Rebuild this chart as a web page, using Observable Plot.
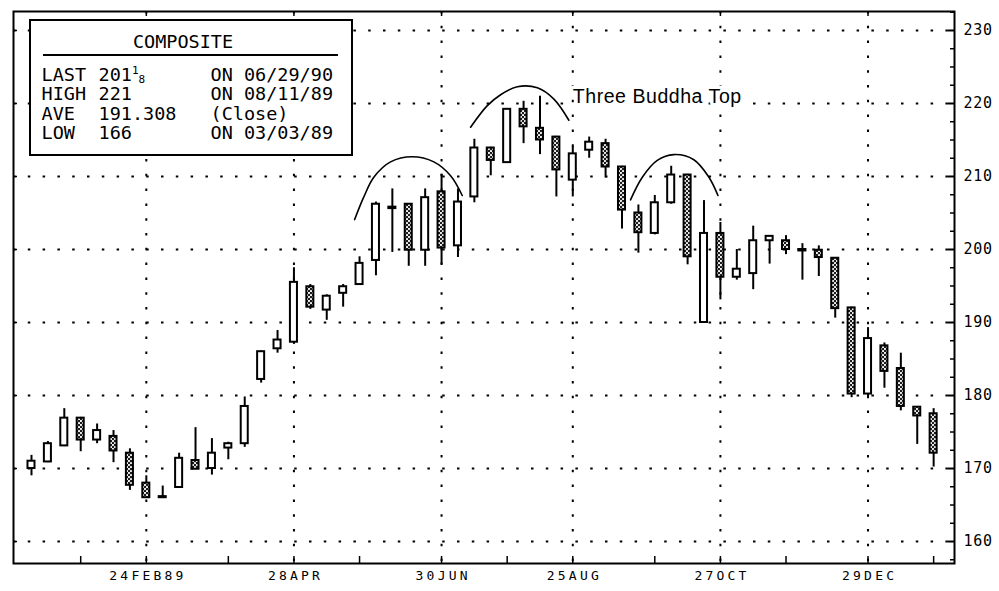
<!DOCTYPE html>
<html><head><meta charset="utf-8">
<script src="https://cdn.jsdelivr.net/npm/d3@7"></script>
<script src="https://cdn.jsdelivr.net/npm/@observablehq/plot@0.6"></script>
<style>
html,body{margin:0;padding:0;background:#fff;}
#wrap{position:relative;width:999px;height:591px;overflow:hidden;}
.box{position:absolute;left:29px;top:19px;width:324px;height:137px;border:2px solid #000;background:#fff;box-sizing:border-box;}
.t{position:absolute;font-family:"DejaVu Sans Mono",monospace;font-size:18.5px;line-height:18.5px;color:#000;white-space:pre;}
.sub{font-size:11px;position:relative;}
.hr{position:absolute;left:43px;top:54px;width:295px;height:2px;background:#000;}
</style></head><body><div id="wrap"></div>
<script>
// ---- data (weekly candles) ----
const dates = ["1989-01-06","1989-01-13","1989-01-20","1989-01-27","1989-02-03","1989-02-10","1989-02-17","1989-02-24",
"1989-03-03","1989-03-10","1989-03-17","1989-03-24","1989-03-31","1989-04-07","1989-04-14","1989-04-21","1989-04-28",
"1989-05-05","1989-05-12","1989-05-19","1989-05-26","1989-06-02","1989-06-09","1989-06-16","1989-06-23","1989-06-30",
"1989-07-07","1989-07-14","1989-07-21","1989-07-28","1989-08-04","1989-08-11","1989-08-18","1989-08-25",
"1989-09-01","1989-09-08","1989-09-15","1989-09-22","1989-09-29","1989-10-06","1989-10-13","1989-10-20","1989-10-27",
"1989-11-03","1989-11-10","1989-11-17","1989-11-24","1989-12-01","1989-12-08","1989-12-15","1989-12-22","1989-12-29",
"1990-01-05","1990-01-12","1990-01-19","1990-01-26"];
const open  = [170.0,170.9,173.1,176.9,173.9,174.4,172.1,168.0,166.15,167.4,171.1,170.0,172.8,173.4,
182.2,186.4,187.3,194.9,191.7,194.0,195.2,198.5,205.8,206.2,199.9,207.9,200.5,207.2,213.9,211.9,219.2,216.6,215.4,209.5,
213.6,214.5,211.3,205.0,202.2,206.4,210.2,190.0,202.2,196.2,196.7,201.2,201.2,200.0,199.9,198.8,192.0,180.2,186.8,183.7,178.4,177.5];
const high  = [171.8,173.7,178.2,177.0,176.1,175.2,172.7,169.0,167.6,172.1,175.6,174.1,173.6,179.8,
186.1,188.9,197.5,195.2,193.8,195.2,199.0,206.5,208.3,206.3,208.3,210.3,208.3,215.1,214.0,219.3,220.3,221.0,215.5,214.1,
215.4,215.1,211.4,206.1,207.4,211.4,210.3,206.7,203.7,200.0,203.2,201.9,201.9,200.8,200.5,198.9,192.1,189.3,187.2,185.8,178.5,178.2];
const low   = [169.0,170.8,173.0,172.3,173.4,170.8,167.0,166.0,166.0,167.4,169.9,169.1,171.2,172.9,
181.7,185.8,187.0,191.8,190.3,192.1,195.1,196.4,199.6,197.7,197.7,197.9,198.9,206.4,210.1,211.9,214.5,213.0,207.2,207.2,
212.5,209.8,202.8,199.5,202.0,206.2,197.9,190.0,193.1,195.8,194.5,198.0,199.3,195.8,196.3,190.6,179.7,179.8,181.0,177.9,173.3,170.2];
const close = [171.0,173.4,176.9,173.9,175.2,172.4,167.7,166.0,166.0,171.4,169.9,172.1,173.4,178.5,
186.0,187.6,195.5,192.1,193.6,194.9,198.1,206.2,205.6,199.9,207.1,200.2,206.5,213.9,212.2,219.2,216.8,215.0,210.9,213.1,
214.7,211.3,205.4,202.3,206.4,210.2,199.0,202.2,196.2,197.3,201.2,201.8,200.0,199.8,198.9,191.9,180.2,187.8,183.3,178.5,177.2,172.1];

// axis ticks and labels
const yTicks = [160,170,180,190,200,210,220,230];
const yMinor = [157.5,162.5,165,167.5,172.5,175,177.5,182.5,185,187.5,192.5,195,197.5,202.5,205,207.5,212.5,215,217.5,222.5,225,227.5,232.5];
const labelDates = ["1989-02-24","1989-04-28","1989-06-30","1989-08-25","1989-10-27","1989-12-29"];
const labelTexts = ["24FEB89","28APR","30JUN","25AUG","27OCT","29DEC"];
const monthTicks = ["1989-01-27","1989-02-24","1989-03-31","1989-04-28","1989-05-26","1989-06-30","1989-07-28",
"1989-08-25","1989-09-29","1989-10-27","1989-11-24","1989-12-29","1990-01-26"];

// "Three Buddha Top" arcs: position in weeks (candle number) and price
const arcWeeks = [[20.70,21.26,21.87,22.89,24.21,25.53,26.55,27.26],
                  [27.77,28.79,29.60,30.62,31.84,32.85,33.76],
                  [37.52,38.24,39.15,40.16,41.38,42.30,42.85]];
const arcValues = [[204.1,207.2,209.9,212.0,212.7,212.0,210.1,207.4],
                   [216.75,219.7,221.2,222.3,222.15,220.6,217.7],
                   [206.8,209.9,212.2,213.0,212.3,209.9,207.4]];
const noteText = "Three Buddha Top";
const noteDate = "1989-08-25";
const noteValue = 220;

// ---- build ----
const candles = dates.map((d,i)=>({date:new Date(d), open:open[i], high:high[i], low:low[i], close:close[i]}));
const up = candles.filter(c=>c.close>=c.open);
const down = candles.filter(c=>c.close<c.open);
const t0 = new Date(dates[0]);
const arcs = arcWeeks.flatMap((ws,k)=>ws.map((w,j)=>({arc:k, date:new Date(+t0 + (w-1)*7*864e5), value:arcValues[k][j]})));
const labelMap = new Map(labelDates.map((d,i)=>[+new Date(d), labelTexts[i]]));

const W=999,H=591,mL=13,mR=45,mT=11,mB=28;
const pw=W-mL-mR, ph=H-mT-mB;
const half = d=>[d3.utcHour.offset(d,-36), d3.utcHour.offset(d,36)];
const dots = {stroke:"#000", strokeWidth:2, strokeDasharray:"2.5,12.3"};

const chart = Plot.plot({
  width:W, height:H, marginLeft:mL, marginRight:mR, marginTop:mT, marginBottom:mB,
  style:{background:"#fff", color:"#000"},
  x:{type:"utc", domain:[new Date(Date.UTC(1988,11,29,7,40)), new Date(Date.UTC(1990,1,3,21,36))]},
  y:{domain:[156.99,232.6]},
  marks:[
    Plot.ruleY(yTicks, {y:d=>d, ...dots}),
    Plot.ruleX(labelDates, {x:d=>new Date(d), ...dots}),
    Plot.ruleX(candles, {x:"date", y1:"low", y2:"high", stroke:"#000", strokeWidth:2}),
    Plot.rect(up, {x1:d=>half(d.date)[0], x2:d=>half(d.date)[1], y1:"open", y2:"close", fill:"#fff", stroke:"#000", strokeWidth:2}),
    Plot.rect(down, {x1:d=>half(d.date)[0], x2:d=>half(d.date)[1], y1:"open", y2:"close", fill:"url(#stipple)", stroke:"#000", strokeWidth:2}),
    Plot.line(arcs, {x:"date", y:"value", z:"arc", curve:"catmull-rom", stroke:"#000", strokeWidth:1.6}),
    Plot.text([noteText], {x:()=>new Date(noteDate), y:()=>noteValue, text:d=>d, textAnchor:"start", lineAnchor:"bottom",
      fontSize:19.5, fontFamily:"Liberation Sans, Arial, sans-serif", fill:"#000", stroke:"#fff", strokeWidth:7, paintOrder:"stroke"}),
    Plot.ruleX(monthTicks, {x:d=>new Date(d), insetTop:ph-7, stroke:"#000", strokeWidth:1.5}),
    Plot.ruleX(labelDates, {x:d=>new Date(d), insetBottom:ph-5, stroke:"#000", strokeWidth:1.5}),
    Plot.ruleY(yTicks, {y:d=>d, insetLeft:pw-6, stroke:"#000", strokeWidth:2}),
    Plot.ruleY(yMinor, {y:d=>d, insetLeft:pw-4, stroke:"#000", strokeWidth:1.5}),
    Plot.ruleY(yTicks, {y:d=>d, insetRight:pw-4, stroke:"#000", strokeWidth:1.5}),
    Plot.frame({stroke:"#000", strokeWidth:2}),
    Plot.axisY({anchor:"right", ticks:yTicks, tickSize:0, tickPadding:9, tickFormat:d=>String(d), label:null,
      fontSize:15, fontFamily:"DejaVu Sans Mono, monospace"}),
    Plot.axisX({ticks:labelDates.map(d=>new Date(d)), tickSize:0, tickPadding:7, tickFormat:d=>labelMap.get(+d), label:null,
      fontSize:13, fontFamily:"DejaVu Sans Mono, monospace"})
  ]
});

// stipple pattern for falling candles
const svg = d3.select(chart);
const pat = svg.insert("defs",":first-child").append("pattern")
  .attr("id","stipple").attr("width",4).attr("height",4).attr("patternUnits","userSpaceOnUse");
pat.append("rect").attr("width",4).attr("height",4).attr("fill","#1c1c1c");
pat.append("circle").attr("cx",1).attr("cy",1).attr("r",1.05).attr("fill","#fff");
pat.append("circle").attr("cx",3).attr("cy",3).attr("r",1.05).attr("fill","#fff");
svg.selectAll('[aria-label="x-axis tick label"] text').style("letter-spacing","3.2px").attr("dx","1.6");
svg.selectAll('[aria-label="y-axis tick label"] text').style("letter-spacing","0.7px");
svg.selectAll("text").filter(function(){ return this.textContent === noteText; }).style("letter-spacing","0.55px");

const wrap = document.getElementById("wrap");
wrap.appendChild(chart);

// info box
const boxRows = [
  ["LAST", "201", "ON 06/29/90"],
  ["HIGH", "221", "ON 08/11/89"],
  ["AVE", "191.308", "(Close)"],
  ["LOW", "166", "ON 03/03/89"]
];
const boxTitle = "COMPOSITE";
const box = document.createElement("div"); box.className="box"; wrap.appendChild(box);
const hr = document.createElement("div"); hr.className="hr"; wrap.appendChild(hr);
function addText(txt, left, baseline, extra){
  const s=document.createElement("div"); s.className="t";
  s.style.left=left+"px"; s.style.top=(baseline-15.65)+"px";
  s.textContent=txt; if(extra) extra(s); wrap.appendChild(s); return s;
}
const title = addText(boxTitle, 83, 48.3); title.style.width="200px"; title.style.textAlign="center";
const baselines=[81.7,101.1,120.3,139.6];
boxRows.forEach((r,i)=>{
  addText(r[0], 41.5, baselines[i]);
  const v = addText(r[1], 98.5, baselines[i]);
  if(i===0){
    const a=document.createElement("span"); a.className="sub"; a.style.top="-6.7px"; a.textContent="1";
    const b=document.createElement("span"); b.className="sub"; b.style.top="1.6px"; b.textContent="8";
    v.appendChild(a); v.appendChild(b);
  }
  addText(r[2], 210.5, baselines[i]);
});
</script></body></html>
